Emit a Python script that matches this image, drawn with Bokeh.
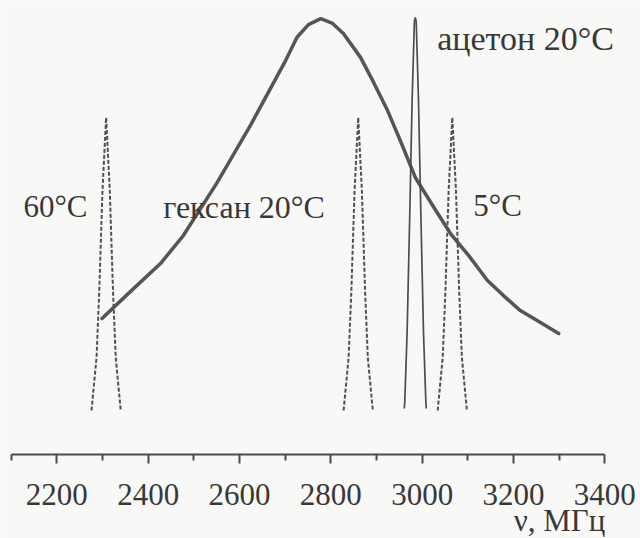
from bokeh.plotting import figure
from bokeh.models import Range1d, FixedTicker, Label, LinearAxis
from bokeh.embed import file_html
from bokeh.resources import INLINE

# ---- data ----
# broad hexane 20°C band: frequency (MHz) and relative intensity
hexane_nu = [2299, 2361, 2427, 2477, 2550, 2624, 2701, 2726, 2751, 2778, 2804, 2828,
             2865, 2894, 2924, 2953, 2985, 3023, 3062, 3102, 3143, 3178, 3215, 3259, 3299]
hexane_I = [0.238, 0.306, 0.377, 0.448, 0.580, 0.727, 0.891, 0.950, 0.982, 0.997, 0.985, 0.959,
            0.899, 0.835, 0.765, 0.686, 0.595, 0.524, 0.453, 0.397, 0.334, 0.296, 0.258, 0.228, 0.200]

# narrow acetone 20°C line
acetone_nu = [2961, 2962, 2967, 2973, 2978, 2983, 2985, 2987, 2992, 2997, 3003, 3008, 3009]
acetone_I = [0.01, 0.03, 0.20, 0.51, 0.79, 0.99, 1.0, 0.99, 0.79, 0.51, 0.20, 0.03, 0.01]

# dashed lines (60°C, middle, 5°C)
p60_nu = [2276, 2287, 2293, 2300, 2308, 2316, 2323, 2329, 2340]
pmid_nu = [2828, 2839, 2845, 2852, 2860, 2868, 2875, 2881, 2892]
p5_nu = [3034, 3045, 3051, 3058, 3066, 3074, 3081, 3087, 3098]
dashed_I = [0.005, 0.139, 0.309, 0.562, 0.747, 0.562, 0.309, 0.139, 0.005]

major_ticks = [2200, 2400, 2600, 2800, 3000, 3200, 3400]
minor_ticks = [2100, 2300, 2500, 2700, 2900, 3100, 3300]

BG = "#f8f8f6"
INK = "#4a4a4a"
TXT = "#383838"
FONT = "Liberation Serif"

p = figure(width=640, height=538, output_backend="svg", toolbar_location=None,
           x_range=Range1d(2076.7, 3478.1), y_range=Range1d(-0.3190, 1.0430),
           x_axis_location=None, y_axis_location=None,
           min_border=0)
p.background_fill_color = BG
p.border_fill_color = BG
p.outline_line_color = None
p.xgrid.visible = False
p.ygrid.visible = False

ax = LinearAxis(ticker=FixedTicker(ticks=major_ticks, minor_ticks=minor_ticks),
                bounds=(2100, 3400), fixed_location=-0.1063)
ax.axis_line_width = 2
ax.axis_line_color = INK
ax.major_tick_line_color = INK
ax.major_tick_line_width = 2
ax.major_tick_out = 9
ax.major_tick_in = 0
ax.minor_tick_line_color = INK
ax.minor_tick_line_width = 2
ax.minor_tick_out = 6
ax.minor_tick_in = 0
ax.major_label_text_font = FONT
ax.major_label_text_font_size = "31px"
ax.major_label_text_color = TXT
ax.major_label_standoff = 21
p.add_layout(ax, "below")

# curves
p.line(hexane_nu, hexane_I, line_width=3.5, line_color="#555555", line_join="round", line_cap="round")
p.line(acetone_nu, acetone_I, line_width=1.7, line_color="#4d4d4d")
for nu in (p60_nu, pmid_nu, p5_nu):
    p.line(nu, dashed_I, line_width=2, line_color="#505050", line_dash="4 2")

def lab(x, y, t, size="31px", align="left"):
    p.add_layout(Label(x=x, y=y, text=t, text_align=align, text_baseline="alphabetic",
                       text_font=FONT, text_font_size=size, text_color=TXT))

lab(3033, 0.947, "ацетон 20°C", size="34px")
lab(2127, 0.521, "60°C")
lab(2433, 0.521, "гексан 20°C", size="32px")
lab(3112, 0.524, "5°C")
lab(3401, -0.273, "ν, МГц", size="31px", align="right")

open("out.html", "w").write(file_html(p, INLINE))
